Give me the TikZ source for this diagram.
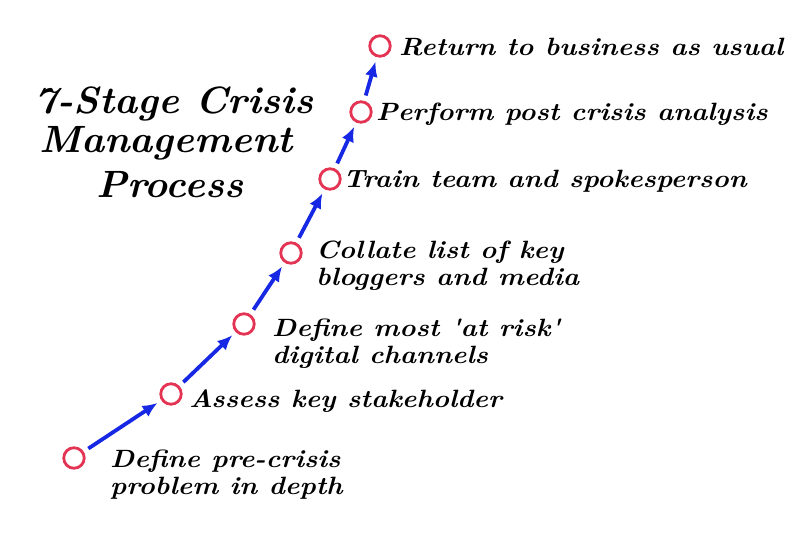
\documentclass[tikz,border=0pt]{standalone}
\usetikzlibrary{arrows.meta}
\definecolor{circred}{RGB}{228,52,84}
\definecolor{arrblue}{RGB}{22,40,228}
\newcommand{\lbl}[2]{\scalebox{#1}[1]{\begin{tabular}[t]{@{}l@{}}#2\end{tabular}}}
\tikzset{
  stage/.style={circle, draw=circred, line width=2.8pt, minimum size=20.5pt, inner sep=0pt, fill=white},
  arr/.style={draw=arrblue, line width=3.8pt, -{Latex[length=15pt,width=13pt]}, shorten <=5.5pt, shorten >=4.5pt},
  txt/.style={anchor=base west, inner sep=0pt, font=\fontsize{25}{27}\selectfont\bfseries\itshape},
  ttl/.style={anchor=base, inner sep=0pt, font=\fontsize{38}{40}\selectfont\bfseries\itshape}
}
\begin{document}
\begin{tikzpicture}[x=1pt,y=-1pt]
\useasboundingbox[fill=white] (0,0) rectangle (800,541);
% stages
\node[stage] (s1) at (74,458) {};
\node[stage] (s2) at (171,394) {};
\node[stage] (s3) at (244,324) {};
\node[stage] (s4) at (291,253) {};
\node[stage] (s5) at (330,179) {};
\node[stage] (s6) at (361,112) {};
\node[stage] (s7) at (380,46) {};
% arrows
\draw[arr] (s1) -- (s2);
\draw[arr] (s2) -- (s3);
\draw[arr] (s3) -- (s4);
\draw[arr] (s4) -- (s5);
\draw[arr] (s5) -- (s6);
\draw[arr] (s6) -- (s7);
% labels
\node[txt] (t1) at (110,467) {\lbl{1.1}{Define pre-crisis\\problem in depth}};
\node[txt] (t2) at (189,407) {\lbl{1.1}{Assess key stakeholder}};
\node[txt] (t3) at (272,336) {\lbl{1.1}{Define most \textquotesingle at risk\textquotesingle\\digital channels}};
\node[txt] (t4) at (316,258) {\lbl{1.1}{Collate list of key\\bloggers and media}};
\node[txt] (t5) at (343,187) {\lbl{1.1}{Train team and spokesperson}};
\node[txt] (t6) at (376,120) {\lbl{1.1}{Perform post crisis analysis}};
\node[txt] (t7) at (399,55) {\lbl{1.1}{Return to business as usual}};
% title
\node[ttl] (title1) at (174,113) {\scalebox{1.03}[1]{7-Stage Crisis}};
\node[ttl] (title2) at (166,152) {\scalebox{1.03}[1]{Management}};
\node[ttl] (title3) at (170,197) {\scalebox{1.03}[1]{Process}};
\end{tikzpicture}
\end{document}
